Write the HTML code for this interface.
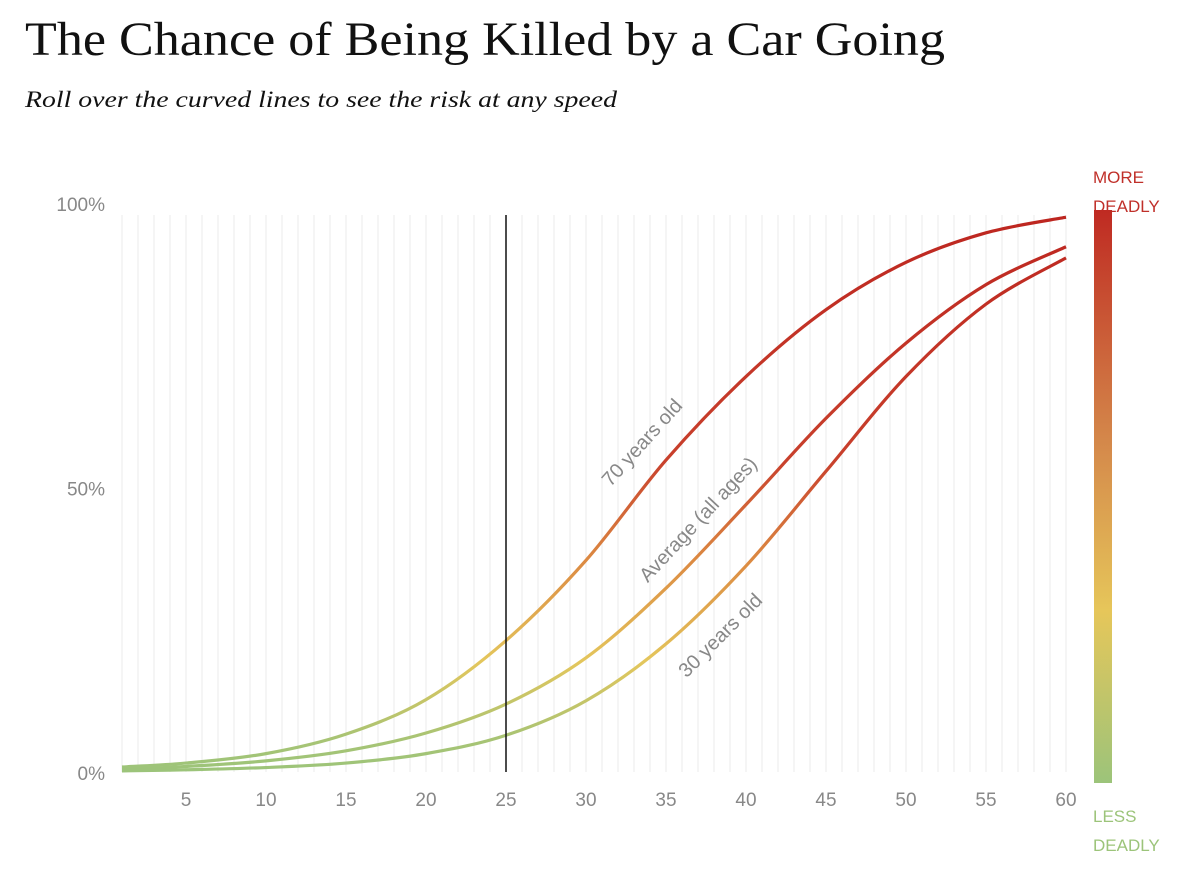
<!DOCTYPE html>
<html><head><meta charset="utf-8"><style>
body{margin:0;background:#fff;width:1200px;height:884px;overflow:hidden}
svg{display:block}
</style></head><body>
<svg id="chart" width="1200" height="884">
<defs>
<linearGradient id="risk" gradientUnits="userSpaceOnUse" x1="0" y1="772" x2="0" y2="215">
<stop offset="0" stop-color="#9cc47a"/><stop offset="0.06" stop-color="#a8c474"/><stop offset="0.2" stop-color="#e4c65c"/><stop offset="0.38" stop-color="#dc8a42"/><stop offset="0.56" stop-color="#c8402c"/><stop offset="1" stop-color="#bd2620"/>
</linearGradient>
<linearGradient id="barg" x1="0" y1="1" x2="0" y2="0">
<stop offset="0" stop-color="#9cc47a"/><stop offset="0.3" stop-color="#e6c65a"/><stop offset="0.6" stop-color="#d4874a"/><stop offset="1" stop-color="#bf2a22"/>
</linearGradient>
</defs>
<text x="25" y="55" font-family="Liberation Serif, serif" font-size="48" textLength="920" lengthAdjust="spacingAndGlyphs" fill="#111">The Chance of Being Killed by a Car Going</text>
<text x="25" y="107" font-family="Liberation Serif, serif" font-style="italic" font-size="23" textLength="592" lengthAdjust="spacingAndGlyphs" fill="#111">Roll over the curved lines to see the risk at any speed</text>
<g id="grid"></g>
<g id="axes"></g>
<g id="series"></g>
<line x1="506" y1="215" x2="506" y2="772" stroke="#111" stroke-width="1.5"/>
<text transform="translate(647,447) rotate(-48)" text-anchor="middle" font-family="Liberation Sans, sans-serif" font-size="20" fill="#888">70 years old</text>
<text transform="translate(703,524) rotate(-47)" text-anchor="middle" font-family="Liberation Sans, sans-serif" font-size="20" fill="#888">Average (all ages)</text>
<text transform="translate(725,640) rotate(-45)" text-anchor="middle" font-family="Liberation Sans, sans-serif" font-size="20" fill="#888">30 years old</text>
<text font-family="Liberation Sans, sans-serif" font-size="17" fill="#c0302a"><tspan x="1093" y="183">MORE</tspan><tspan x="1093" y="212">DEADLY</tspan></text>
<rect x="1094" y="210" width="18" height="573" fill="url(#barg)"/>
<text font-family="Liberation Sans, sans-serif" font-size="17" fill="#9cc47a"><tspan x="1093" y="822">LESS</tspan><tspan x="1093" y="851">DEADLY</tspan></text>
</svg>
<script>
const speeds=[1,5,10,15,20,25,30,35,40,45,50,55,60];
const old70=[0.9,1.6,3.3,6.8,13,23.6,38,56,71,83,91.5,96.8,99.6];
const average=[0.5,1,2,3.8,7,12.2,20.5,33,48,63.5,77,87.5,94.3];
const age30=[0.2,0.4,0.8,1.6,3.3,6.6,12.8,23,37,54,71,84,92.3];
const xTicks=[5,10,15,20,25,30,35,40,45,50,55,60];
const yTicks=[0,50,100];
const NS='http://www.w3.org/2000/svg';
const X=v=>122+(v-1)*16, Y=v=>772-v/100*557;
const grid=document.getElementById('grid'),axes=document.getElementById('axes'),ser=document.getElementById('series');
for(let s=1;s<=60;s++){const l=document.createElementNS(NS,'line');


l.setAttribute('x1',X(s));l.setAttribute('x2',X(s));l.setAttribute('y1',215);l.setAttribute('y2',772);l.setAttribute('stroke','#ebebeb');l.setAttribute('stroke-width','1');grid.appendChild(l);}
xTicks.forEach(t=>{const e=document.createElementNS(NS,'text');


e.setAttribute('x',X(t));e.setAttribute('y',806);e.setAttribute('text-anchor','middle');e.setAttribute('font-family','Liberation Sans, sans-serif');e.setAttribute('font-size','19');e.setAttribute('fill','#888');e.textContent=t;axes.appendChild(e);});
yTicks.forEach(t=>{const e=document.createElementNS(NS,'text');


e.setAttribute('x',105);e.setAttribute('y',211+(100-t)/100*569);e.setAttribute('text-anchor','end');e.setAttribute('font-family','Liberation Sans, sans-serif');e.setAttribute('font-size','19');e.setAttribute('fill','#888');e.textContent=t+'%';axes.appendChild(e);});
function pathFor(vals){const p=speeds.map((s,i)=>[X(s),Y(vals[i])]);let d='M'+p[0][0]+','+p[0][1];
for(let i=0;i<p.length-1;i++){const p0=p[i-1]||p[i],p1=p[i],p2=p[i+1],p3=p[i+2]||p2;
const c1=[p1[0]+(p2[0]-p0[0])/6,p1[1]+(p2[1]-p0[1])/6],c2=[p2[0]-(p3[0]-p1[0])/6,p2[1]-(p3[1]-p1[1])/6];
d+=' C'+c1+' '+c2+' '+p2;}return d;}
[['line-70-years',old70],['line-average',average],['line-30-years',age30]].forEach(([n,v])=>{const e=document.createElementNS(NS,'path');


e.setAttribute('d',pathFor(v));e.setAttribute('fill','none');e.setAttribute('stroke','url(#risk)');e.setAttribute('stroke-width','3.2');ser.appendChild(e);});
</script>
</body></html>
